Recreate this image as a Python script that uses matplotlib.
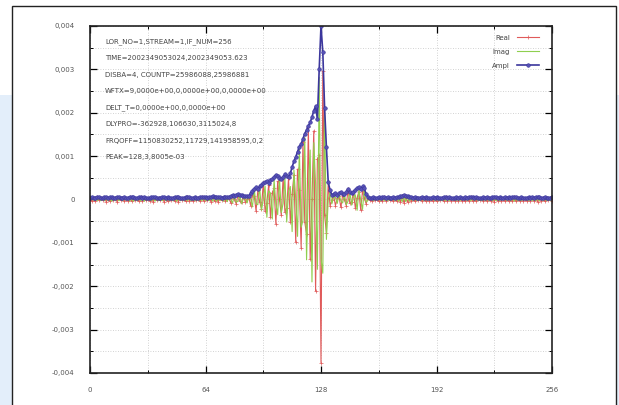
import numpy as np
import matplotlib.pyplot as plt
from matplotlib.patches import Rectangle
from matplotlib.ticker import MultipleLocator, FuncFormatter

# lag axis
lags = np.arange(257)

# values, in units of 1e-5
real_vals = [
    3, -4, 2, -3, 5, -2, 3, -1, 4, -5, 2, -4, 3, -2, 3, -5, 4, -2, 3, -4,
    2, -3, 5, -4, 3, -2, 1, -4, 5, -3, 4, -2, 2, -3, 4, -5, 3, -2, 3, -1,
    4, -5, 2, -4, 3, -2, 3, -4, 4, -5, 3, -1, 2, -4, 5, -3, 2, -3, 4, -2,
    3, -4, 5, -3, 4, -2, 4, -5, 6, -4, 3, -5, 4, -2, 5, -3,
    1, 4, -8, 6, 2, -10, 11, -3, -6, 9, -5, 0, 6, -14, 10, 9, -26, 21, -5, -21,
    38, -26, -7, 34, -41, 16, 26, -56, 42, 0, -36, 51, -29, -19, 49, -52,
    13, 56, -98, 70, 21, -111, 132, -52, -80, 167, -137, 0, 158, -211, 93, 102,
    -376, 296, -36, -77, 40, -14, -2, 10, -14, 3, 7, -18, 10, 0, -14, 24,
    -9, -5, 17, -19, 4, 18, -24, 19, 4, -10, 5, -1,
    -3, 4, -2, 2, -4, 3, -4, 5, -3, 4, -2, 2, -4, 3, -4, 5, -6, 7, -8, 7,
    -6, 5, -4, 3, -4, 3, -2, 3, -4, 3, -4, 3, -3, 2, -4, 3, -4, 3, -2, 3,
    -4, 5, -3, 4, -3, 2, -3, 4, -3, 4, -3, 2, -4, 3, -4, 5, -4, 3, -4, 3,
    -2, 3, -4, 3, -4, 3, -3, 4, -5, 4, -3, 4, -3, 2, -4, 3, -4, 3, -4, 5,
    -4, 3, -3, 4, -3, 2, -3, 4, -3, 4, -3, 4, -5, 4, -3, 3, -4, 3, -2, 3,
    -4,
]
imag_vals = [
    -2, 3, -2, 3, -3, 4, -3, 3, -3, 3, -3, 3, -4, 2, -3, 4, -3, 3, -3, 3,
    -2, 3, -4, 3, -4, 3, -3, 3, -3, 3, -4, 3, -2, 3, -3, 3, -4, 3, -3, 3,
    -3, 3, -3, 3, -3, 2, -3, 3, -4, 3, -3, 3, -3, 3, -3, 4, -3, 3, -3, 2,
    -3, 3, -3, 5, -3, 3, -3, 3, -4, 4, -4, 3, -3, 3, -4, 4,
    -5, 5, 0, -8, 9, -6, -4, 9, -10, 2, 4, -8, 5, 2, -17, 24, -10, -12, 29, -25,
    0, 31, -41, 20, 15, -45, 45, -10, -35, 50, -30, -9, 50, -52, 18, 30,
    -74, 68, 0, -85, 120, -64, -48, 143, -139, 29, 114, -190, 131, 37, -161, 282,
    -136, -170, 206, -92, 0, 17, -10, 6, 5, -9, 12, -3, -8, 12, -12, -4,
    16, -13, 6, 11, -25, 22, 0, -23, 25, -6, -2, 4,
    2, -3, 3, -2, 3, -3, 3, -3, 3, -3, 3, -2, 3, -3, 3, -4, 4, -5, 6, -5,
    5, -4, 3, -3, 3, -3, 2, -3, 3, -3, 3, -3, 3, -2, 3, -3, 3, -3, 2, -3,
    3, -3, 3, -3, 3, -2, 3, -3, 3, -3, 3, -2, 3, -3, 3, -3, 3, -3, 3, -3,
    2, -3, 3, -3, 3, -3, 3, -3, 3, -3, 3, -3, 3, -2, 3, -3, 3, -3, 3, -4,
    3, -3, 3, -3, 3, -2, 3, -3, 3, -3, 3, -3, 3, -3, 3, -3, 3, -3, 2, -3,
    3,
]
ampl_vals = [
    4, 5, 3, 4, 6, 5, 4, 3, 5, 6, 4, 5, 5, 3, 4, 6, 5, 4, 4, 5,
    3, 4, 6, 5, 5, 4, 3, 5, 6, 4, 5, 4, 3, 4, 5, 6, 5, 4, 4, 3,
    5, 6, 4, 5, 4, 3, 4, 5, 5, 6, 4, 3, 4, 5, 6, 5, 4, 4, 5, 3,
    4, 5, 6, 6, 5, 4, 5, 6, 7, 6, 5, 6, 5, 4, 6, 5,
    5, 6, 8, 10, 9, 11, 12, 10, 11, 9, 7, 8, 8, 14, 20, 25, 28, 24, 30, 33,
    38, 40, 42, 39, 44, 48, 52, 57, 55, 50, 47, 52, 58, 55, 52, 60,
    75, 88, 98, 110, 122, 128, 140, 152, 160, 170, 178, 190, 205, 215, 185, 300,
    400, 340, 210, 120, 40, 22, 10, 12, 15, 10, 14, 18, 13, 12, 18, 24,
    18, 14, 18, 22, 26, 28, 24, 30, 26, 12, 5, 4,
    4, 5, 4, 3, 5, 4, 5, 6, 4, 5, 4, 3, 5, 4, 5, 6, 7, 9, 10, 9,
    8, 6, 5, 4, 5, 4, 3, 4, 5, 4, 5, 4, 4, 3, 5, 4, 5, 4, 3, 4,
    5, 6, 4, 5, 4, 3, 4, 5, 4, 5, 4, 3, 5, 4, 5, 6, 5, 4, 5, 4,
    3, 4, 5, 4, 5, 4, 4, 5, 6, 5, 4, 5, 4, 3, 5, 4, 5, 4, 5, 6,
    5, 4, 4, 5, 4, 3, 4, 5, 4, 5, 4, 5, 6, 5, 4, 4, 5, 4, 3, 4,
    5,
]

info_lines = [
    'LOR_NO=1,STREAM=1,IF_NUM=256',
    'TIME=2002349053024,2002349053.623',
    'DISBA=4, COUNTP=25986088,25986881',
    'WFTX=9,0000e+00,0,0000e+00,0,0000e+00',
    'DELT_T=0,0000e+00,0,0000e+00',
    'DLYPRO=-362928,106630,3115024,8',
    'FRQOFF=1150830252,11729,141958595,0,2',
    'PEAK=128,3,8005e-03',
]

real = np.array(real_vals) * 1e-5
imag = np.array(imag_vals) * 1e-5
ampl = np.array(ampl_vals) * 1e-5

W, H = 619, 405
fig = plt.figure(figsize=(W / 100, H / 100), dpi=100, facecolor='white')

# light blue page behind the white panel
fig.patches.append(Rectangle((0, 0), 1, (H - 95) / H, transform=fig.transFigure,
                             facecolor='#e3eefa', edgecolor='none', zorder=-2))
fig.patches.append(Rectangle((12 / W, -0.05), 604 / W, (H - 6) / H + 0.05,
                             transform=fig.transFigure, facecolor='white',
                             edgecolor='#222222', lw=1.0, zorder=-1))

ax = fig.add_axes([90 / W, 32 / H, 462 / W, 347 / H])
ax.set_zorder(2)
ax.set_facecolor('white')

ax.plot(lags, real, color='#e05a5a', lw=0.8, marker='+', ms=2.5, mew=0.5, label='Real')
ax.plot(lags, imag, color='#8fcf4f', lw=0.8, label='Imag')
ax.plot(lags, ampl, color='#3b369c', lw=1.2, marker='o', ms=2.6, mew=0.4,
        mfc='#5752b6', mec='#3b369c', label='Ampl')

ax.set_xlim(0, 256)
ax.set_ylim(-0.004, 0.004)
ax.xaxis.set_major_locator(MultipleLocator(64))
ax.xaxis.set_minor_locator(MultipleLocator(32))
ax.yaxis.set_major_locator(MultipleLocator(0.001))
ax.yaxis.set_minor_locator(MultipleLocator(0.0005))


def yfmt(v, pos):
    if abs(v) < 1e-9:
        return '0'
    return f'{v:.3f}'.replace('.', ',')


ax.yaxis.set_major_formatter(FuncFormatter(yfmt))

ax.grid(True, which='both', linestyle=(0, (1, 2)), color='#c4c4c4', lw=0.6)
ax.set_axisbelow(True)
ax.tick_params(which='major', direction='in', top=True, right=True, length=5,
               width=0.9, labelsize=5, labelcolor='#555555')
ax.tick_params(which='minor', direction='in', top=True, right=True, length=2.5, width=0.7)
ax.tick_params(axis='y', which='major', pad=11)
ax.tick_params(axis='x', which='major', pad=10)
for sp in ax.spines.values():
    sp.set_linewidth(1.2)
    sp.set_color('#222222')

for i, line in enumerate(info_lines):
    ypx = 42 + 16.5 * i
    ax.text(15 / 462, (373 - ypx) / 347, line, transform=ax.transAxes,
            fontsize=5, color='#444444', va='center', ha='left')

leg = ax.legend(loc='upper right', bbox_to_anchor=(1 - 10 / 462, 1 - 6 / 347),
                frameon=False, fontsize=5, markerfirst=False, handlelength=3.2,
                labelspacing=1.15, handletextpad=1.0, borderaxespad=0)
for t in leg.get_texts():
    t.set_color('#444444')

fig.savefig('out.png', dpi=100, facecolor=fig.get_facecolor())
